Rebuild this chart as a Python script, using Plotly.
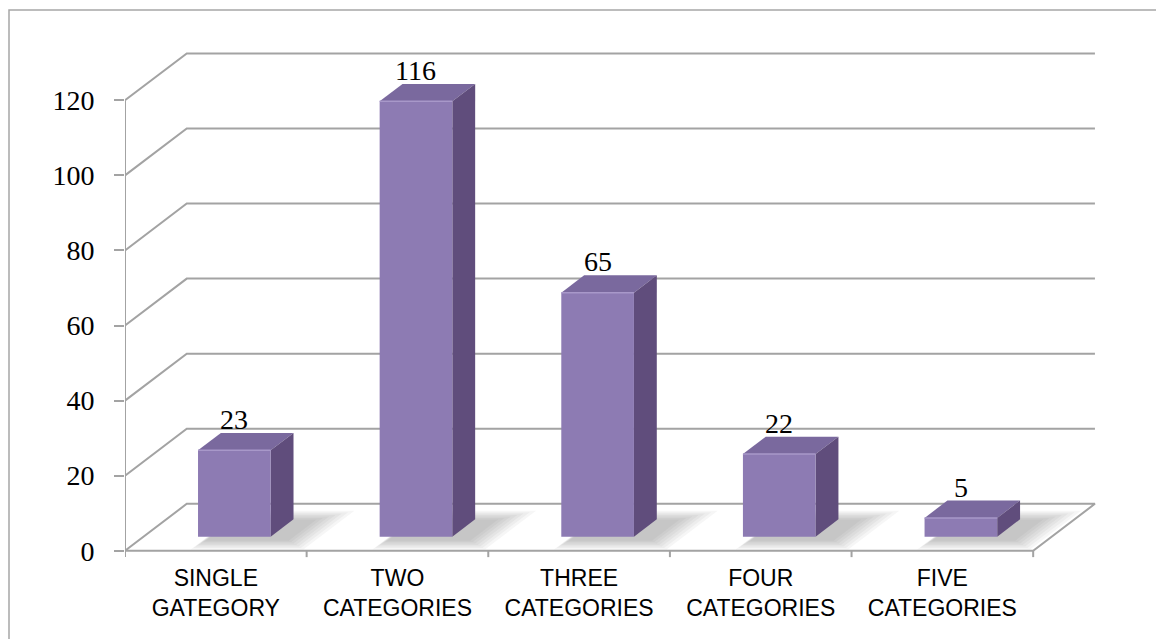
import plotly.graph_objects as go

# ---- data ----
categories = ["SINGLE<br>GATEGORY", "TWO<br>CATEGORIES", "THREE<br>CATEGORIES",
              "FOUR<br>CATEGORIES", "FIVE<br>CATEGORIES"]
values = [23, 116, 65, 22, 5]
y_ticks = [0, 20, 40, 60, 80, 100, 120]

# ---- pseudo-3D geometry (in axis units) ----
DX, DY = 0.34, 12.5      # depth offset of the back wall
F0, BD = 0.30, 0.37      # bar front position / bar depth as fraction of depth
BW = 0.40                # bar width (category units)
GRID = "#A3A3A3"
FRONT, TOP, SIDE = "#8D7BB3", "#7A699E", "#604D7C"

W, H = 1156, 639
ML, MR, MT, MB = 125, 32, 44, 77
XR = [-0.5, 5.0]
YR = [-3, 135]

fig = go.Figure()

def seg(xs, ys, color=GRID, width=2):
    fig.add_trace(go.Scatter(x=xs, y=ys, mode="lines",
                             line=dict(color=color, width=width),
                             hoverinfo="skip", showlegend=False))

def poly(xs, ys, fill, line=None, lw=0):
    fig.add_trace(go.Scatter(x=xs + [xs[0]], y=ys + [ys[0]], mode="lines",
                             fill="toself", fillcolor=fill,
                             line=dict(color=line or fill, width=lw),
                             hoverinfo="skip", showlegend=False))

n = len(categories)
xl, xr = -0.5, n - 0.5

# back wall gridlines
for v in y_ticks[1:]:
    seg([xl, xl + DX, xr + DX], [v, v + DY, v + DY])
# floor
seg([xl, xr, xr + DX, xl + DX, xl], [0, 0, DY, DY, 0])
# vertical axis line
seg([xl, xl], [0, y_ticks[-1]])
# category tick marks at boundaries
for k in range(n + 1):
    seg([xl + k, xl + k], [0, -1.7])

# shadows + bars
for i, v in enumerate(values):
    xc = i + F0 * DX
    x0, x1 = xc - BW / 2, xc + BW / 2
    yb, yt = F0 * DY, F0 * DY + v
    ddx, ddy = BD * DX, BD * DY
    # soft shadow on the floor (stack of expanding translucent footprints)
    kx = DX / DY
    for s in [1.0, 0.85, 0.7, 0.55, 0.4, 0.25, 0.1]:
        ex, ey = 0.09 * s, 2.6 * s
        sx0 = x0 + 0.05 - ex
        sx1 = x1 + 0.09 + ex
        sy0 = yb - 0.8 - ey
        sy1 = yb + ddy - 0.3 + ey
        h = sy1 - sy0
        poly([sx0, sx1, sx1 + h * kx, sx0 + h * kx],
             [sy0, sy0, sy1, sy1], "rgba(80,80,80,0.05)")
    # faces
    poly([x0, x1, x1 + ddx, x0 + ddx], [yt, yt, yt + ddy, yt + ddy], TOP)
    poly([x1, x1 + ddx, x1 + ddx, x1], [yb, yb + ddy, yt + ddy, yt], SIDE)
    poly([x0, x1, x1, x0], [yb, yb, yt, yt], FRONT)
    seg([x0, x1], [yt, yt], color="#A898C9", width=1.5)
    fig.add_annotation(x=xc, y=yt + ddy, text=str(v), showarrow=False,
                       yanchor="bottom", yshift=-4,
                       font=dict(family="Liberation Serif", size=28, color="#000000"))

# chart frame (border of chart area)
pw = W - ML - MR
ph = H - MT - MB
fig.add_shape(type="rect", xref="paper", yref="paper",
              x0=(9 - ML) / pw, x1=(1162 - ML) / pw,
              y0=(H - MB - 645) / ph, y1=(H - MB - 10) / ph,
              line=dict(color="#A6A6A6", width=1.5), fillcolor="rgba(0,0,0,0)",
              layer="below")

fig.update_layout(
    width=W, height=H,
    margin=dict(l=ML, r=MR, t=MT, b=MB),
    paper_bgcolor="white", plot_bgcolor="white",
    hovermode=False,
    xaxis=dict(range=XR, showgrid=False, zeroline=False, showline=False,
               tickmode="array", tickvals=list(range(n)), ticktext=categories,
               ticks="", tickfont=dict(family="Liberation Sans", size=23, color="#000000"),
               fixedrange=True),
    yaxis=dict(range=YR, showgrid=False, zeroline=False, showline=False,
               tickmode="array", tickvals=y_ticks, ticks="outside", ticklen=10,
               tickwidth=2, tickcolor=GRID, ticklabelstandoff=14,
               tickfont=dict(family="Liberation Serif", size=28, color="#000000"),
               fixedrange=True),
)

fig.write_html("out.html")
